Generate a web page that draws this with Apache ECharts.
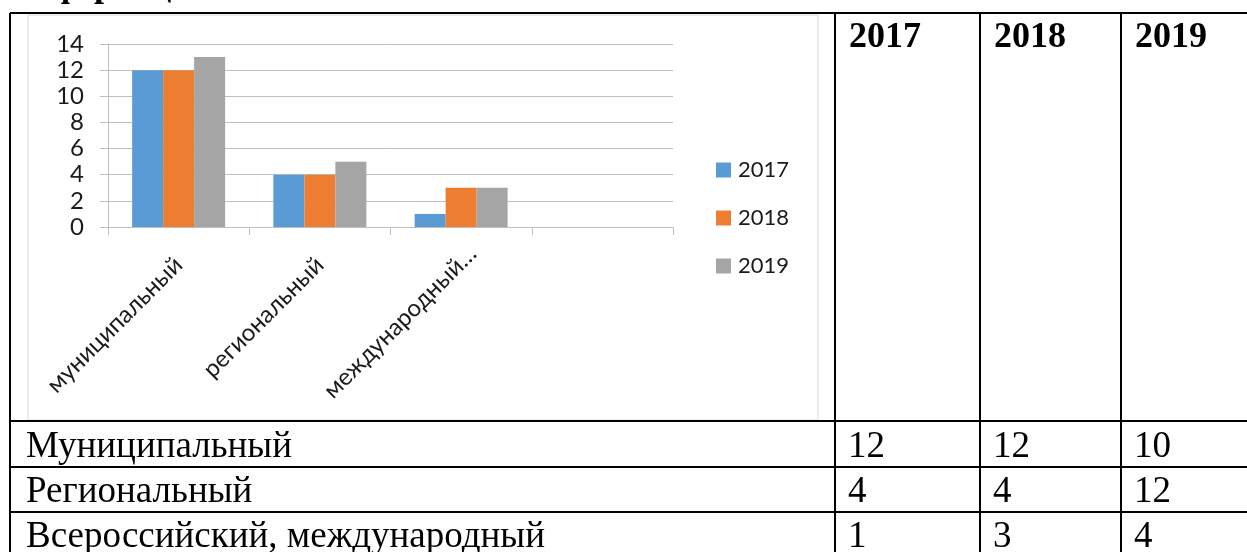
<!DOCTYPE html>
<html>
<head>
<meta charset="utf-8">
<script src="https://cdn.jsdelivr.net/npm/echarts@6/dist/echarts.min.js"></script>
<style>
  html, body { margin: 0; padding: 0; background: #fff; }
  #chart { width: 1247px; height: 552px; }
</style>
</head>
<body>
<div id="chart"></div>
<script>
// chart data
const categories = ['муниципальный', 'региональный', 'международный…', '']
const seriesNames = ['2017', '2018', '2019']
const values2017 = [12, 4, 1, null]
const values2018 = [12, 4, 3, null]
const values2019 = [13, 5, 3, null]
const yMin = 0, yMax = 14, yStep = 2

// table under/around the chart
const tableHeader = ['2017', '2018', '2019']
const tableRowLabels = ['Муниципальный', 'Региональный', 'Всероссийский, международный']
const table2017 = [12, 4, 1]
const table2018 = [12, 4, 3]
const table2019 = [10, 12, 4]
const cutTitle = 'конференций'

const colors = ['#5b9bd5', '#ed7d31', '#a5a5a5']
const labelFont = 'Lato'
const serif = '"Liberation Serif", "Times New Roman", serif'

const chart = echarts.init(document.getElementById('chart'))

// table geometry
const colX = [10, 835, 980, 1121]
const rowY = [13, 421, 467, 512]
const baselines = [459, 504, 549]
const W = 1247, H = 552

const graphic = []
const line = (x1, y1, x2, y2, w, c) => graphic.push({
  type: 'line', silent: true,
  shape: { x1, y1, x2, y2 },
  style: { stroke: c || '#000', lineWidth: w || 2 },
})
const text = (t, x, baseline, font) => graphic.push({
  type: 'text', silent: true,
  style: { text: t, x, y: baseline - 12, font, fill: '#000', verticalAlign: 'middle' },
})

// chart frame
graphic.push({
  type: 'rect', silent: true,
  shape: { x: 28, y: 15, width: 790, height: 405 },
  style: { fill: 'none', stroke: '#d9d9d9', lineWidth: 1 },
})
rowY.forEach(y => line(10, y, W, y))
colX.forEach(x => line(x, 13, x, H))

text(cutTitle, -6, -1, 'bold 36px ' + serif)
tableHeader.forEach((t, i) => text(t, colX[i + 1] + 14, 50, 'bold 36px ' + serif))
const cols = [table2017, table2018, table2019]
tableRowLabels.forEach((t, r) => {
  text(t, 26, baselines[r], '37px ' + serif)
  cols.forEach((col, c) => text(String(col[r]), colX[c + 1] + 13, baselines[r], '37px ' + serif))
})

const gridGray = '#bfbfbf'
const labelStyle = { fontFamily: labelFont, fontSize: 24, color: '#1a1a1a' }

chart.setOption({
  animation: false,
  backgroundColor: '#fff',
  color: colors,
  grid: { left: 108, right: W - 673, top: 44, bottom: H - 227 },
  legend: {
    orient: 'vertical',
    left: 711, top: 154,
    itemWidth: 15, itemHeight: 15, itemGap: 26,
    icon: 'rect',
    data: seriesNames,
    textStyle: { fontFamily: labelFont, fontSize: 22, color: '#1a1a1a', padding: [0, 0, 0, 2] },
  },
  xAxis: {
    type: 'category',
    data: categories,
    axisLine: { lineStyle: { color: gridGray } },
    axisTick: { show: true, length: 8, interval: 0, lineStyle: { color: gridGray } },
    axisLabel: {
      rotate: 45, interval: 0, margin: 34, ...labelStyle,
      // the third label is the tail of a wrapped label in the original, it sits further along
      formatter: (v, i) => i === 2 ? `{s|${v}}` : `{n|${v}}`,
      rich: {
        n: { ...labelStyle },
        s: { ...labelStyle, padding: [0, -16, 0, 0] },
      },
    },
  },
  yAxis: {
    type: 'value',
    min: yMin, max: yMax, interval: yStep,
    axisLine: { show: true, lineStyle: { color: gridGray } },
    axisTick: { show: true, length: 8, lineStyle: { color: gridGray } },
    splitLine: { lineStyle: { color: gridGray } },
    axisLabel: { margin: 24, ...labelStyle },
  },
  series: [values2017, values2018, values2019].map((d, i) => ({
    name: seriesNames[i],
    type: 'bar',
    data: d,
    barWidth: 31,
    barGap: '0%',
  })),
  graphic,
})
</script>
</body>
</html>
